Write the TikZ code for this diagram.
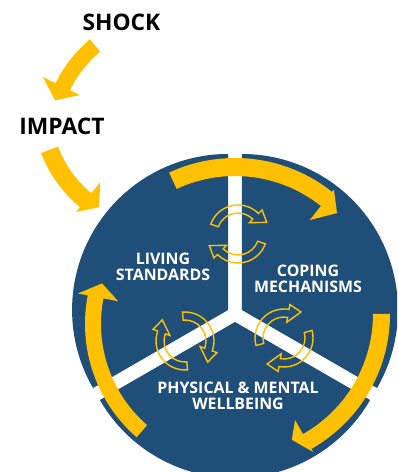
\documentclass[tikz,border=0pt]{standalone}
\usepackage{fontspec}
\setmainfont{Open Sans}
\usepackage{tikz}
\usetikzlibrary{calc}

\definecolor{sectorblue}{RGB}{31,78,121}
\definecolor{arrowgold}{RGB}{255,192,0}

\tikzset{
  % curved block arrow: tail angle, base of head, tip angle,
  % inner/outer band radius, inner/outer barb radius, tip radius
  pics/bandarrow/.style n args={8}{code={
    \path[pic actions] (#1:#5) arc[start angle=#1, end angle=#2, radius=#5]
      -- (#2:#7) -- (#3:#8) -- (#2:#6) -- (#2:#4)
      arc[start angle=#2, end angle=#1, radius=#4] -- cycle;
  }},
  pics/cycleicon/.style={code={
    \pic[iconline] {bandarrow={160}{45}{22}{21}{29}{16}{34}{31}};
    \pic[iconline] {bandarrow={340}{225}{202}{21}{29}{16}{34}{31}};
  }},
  iconline/.style={transform shape, draw=arrowgold, line width=1pt, line join=miter},
  bigarrow/.style={fill=arrowgold},
  title/.style={font=\fontsize{16.2}{20}\selectfont\bfseries, text=black, inner sep=0pt},
  sectortext/.style={font=\fontsize{11.3}{11.7}\selectfont\bfseries, text=white, align=center, inner sep=0pt},
}

\begin{document}
\begin{tikzpicture}[x=0.025cm, y=0.025cm]
  \useasboundingbox (0,0) rectangle (397,472);
  \clip (0,0) rectangle (397,472);
  \fill[white] (0,0) rectangle (397,472);
  \coordinate (O) at (235,158);

  % exploded pie, three sectors
  \foreach \mid/\from/\to in {150/90/210, 30/-30/90, 270/210/330}
    \fill[sectorblue] (O) ++(\mid:8) -- +(\from:156) arc[start angle=\from, end angle=\to, radius=156] -- cycle;

  % small cycle icons on the gaps
  \pic at (238,238) {cycleicon};
  \pic[rotate=115] at (185,131) {cycleicon};
  \pic[rotate=35] at (284,134) {cycleicon};

  % big arrows round the circle
  \pic[bigarrow] at (O) {bandarrow={115}{51.5}{44.7}{138}{156}{120}{159}{143.5}};
  \pic[bigarrow] at (O) {bandarrow={0}{-60.5}{-65.7}{138}{155}{122}{158.5}{138}};
  \pic[bigarrow] at (235,148) {bandarrow={229}{169}{163}{134}{150}{119}{160}{139}};

  % shock -> impact -> circle
  \pic[bigarrow] at (176,330) {bandarrow={130}{154}{161}{118}{134}{107}{148}{128}};
  \pic[bigarrow] at (161,364) {bandarrow={200.6}{230.7}{238}{110}{128}{96}{134.5}{117}};

  % labels
  \node[title] (shock) at (121.5,449.3) {SHOCK};
  \node[title] (impact) at (62,345.5) {IMPACT};
  \node[sectortext] (living) at (163,205) {LIVING\\STANDARDS};
  \node[sectortext] (coping) at (308,193) {COPING\\MECHANISMS};
  \node[sectortext] (wellbeing) at (238,76) {PHYSICAL \& MENTAL\\WELLBEING};
\end{tikzpicture}
\end{document}
